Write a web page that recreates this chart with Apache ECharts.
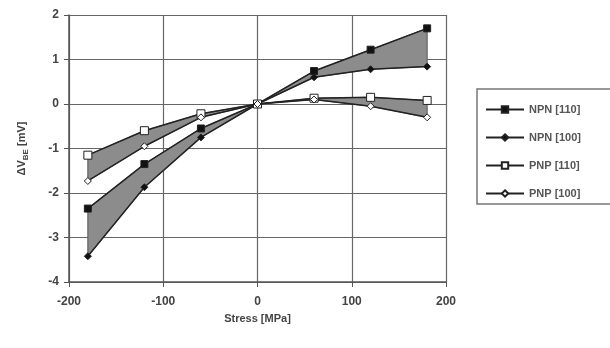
<!DOCTYPE html>
<html><head><meta charset="utf-8">
<script src="https://cdn.jsdelivr.net/npm/echarts@6/dist/echarts.min.js"></script>
<style>html,body{margin:0;padding:0;background:#fff}#c{width:610px;height:348px}</style>
</head><body><div id="c"></div>
<script>
var stress = [-180, -120, -60, 0, 60, 120, 180];
var npn110 = [-2.35, -1.35, -0.55, 0, 0.74, 1.22, 1.70];
var npn100 = [-3.42, -1.87, -0.75, 0, 0.60, 0.78, 0.84];
var pnp110 = [-1.15, -0.60, -0.22, 0, 0.13, 0.15, 0.08];
var pnp100 = [-1.73, -0.95, -0.30, 0, 0.10, -0.05, -0.30];
var xTicks = [-200, -100, 0, 100, 200];
var yTicks = [-4, -3, -2, -1, 0, 1, 2];

function pairs(ys){ return stress.map(function(x,i){ return [x, ys[i]]; }); }

function band(upper, lower){
  return {
    type: 'custom', silent: true, z: 1,
    data: [[0, 0]],
    renderItem: function(params, api){
      var pts = [];
      for (var i = 0; i < stress.length; i++) pts.push(api.coord([stress[i], upper[i]]));
      for (var j = stress.length - 1; j >= 0; j--) pts.push(api.coord([stress[j], lower[j]]));
      return { type: 'polygon', shape: { points: pts },
        style: { fill: '#8c8c8c', stroke: '#555', lineWidth: 1 } };
    }
  };
}

var lineCol = '#222';
function lineSeries(name, ys, symbol, size, fill){
  return {
    name: name, type: 'line', data: pairs(ys), z: 3,
    symbol: symbol, symbolSize: size,
    lineStyle: { color: lineCol, width: 1.5 },
    itemStyle: { color: fill, borderColor: lineCol, borderWidth: 1 },
    emphasis: { disabled: true }
  };
}

var chart = echarts.init(document.getElementById('c'));
var txt = { color: '#444', fontFamily: 'Liberation Sans, Arial, sans-serif', fontWeight: 'bold', fontSize: 11 };
chart.setOption({
  animation: false,
  backgroundColor: '#fff',
  grid: { left: 69, right: 164, top: 15, bottom: 66 },
  xAxis: {
    type: 'value', min: -200, max: 200, interval: 100,
    name: 'Stress [MPa]', nameLocation: 'middle', nameGap: 31,
    nameTextStyle: Object.assign({}, txt, { fontSize: 11 }),
    axisLine: { onZero: false, lineStyle: { color: '#555', width: 1.5 } },
    axisTick: { show: true, length: 5, lineStyle: { color: '#555' } },
    axisLabel: Object.assign({}, txt, { margin: 14, fontSize: 12,
      formatter: function(v){ return xTicks.indexOf(v) >= 0 ? String(v) : ''; } }),
    splitLine: { show: true, lineStyle: { color: '#666', width: 1.2 } }
  },
  yAxis: {
    type: 'value', min: -4, max: 2, interval: 1,
    name: '{a|ΔV}{s|BE}{a| [mV]}', nameLocation: 'middle', nameGap: 42, nameRotate: 90,
    nameTextStyle: { rich: {
      a: Object.assign({}, txt, { fontSize: 11 }),
      s: Object.assign({}, txt, { fontSize: 8, verticalAlign: 'bottom', padding: [0, 0, -3, 0] })
    } },
    axisLine: { onZero: false, lineStyle: { color: '#555', width: 1.5 } },
    axisTick: { show: true, length: 5, lineStyle: { color: '#555' } },
    axisLabel: Object.assign({}, txt, { margin: 10, fontSize: 12,
      formatter: function(v){ return yTicks.indexOf(v) >= 0 ? String(v) : ''; } }),
    splitLine: { show: true, lineStyle: { color: '#666', width: 1.2 } }
  },
  legend: {
    orient: 'vertical', left: 477, top: 89,
    borderColor: '#777', borderWidth: 1.5, backgroundColor: '#fff',
    padding: [15, 40, 5, 8], itemGap: 17, itemWidth: 38, itemHeight: 8,
    textStyle: Object.assign({}, txt, { fontSize: 11, color: '#555' }),
    data: ['NPN [110]', 'NPN [100]', 'PNP [110]', 'PNP [100]']
  },
  series: [
    band(npn110, npn100),
    band(pnp110, pnp100),
    lineSeries('NPN [110]', npn110, 'rect', 7, '#111'),
    lineSeries('NPN [100]', npn100, 'diamond', 7, '#111'),
    lineSeries('PNP [110]', pnp110, 'rect', 8, '#fff'),
    lineSeries('PNP [100]', pnp100, 'diamond', 7, '#fff')
  ]
});
</script></body></html>
